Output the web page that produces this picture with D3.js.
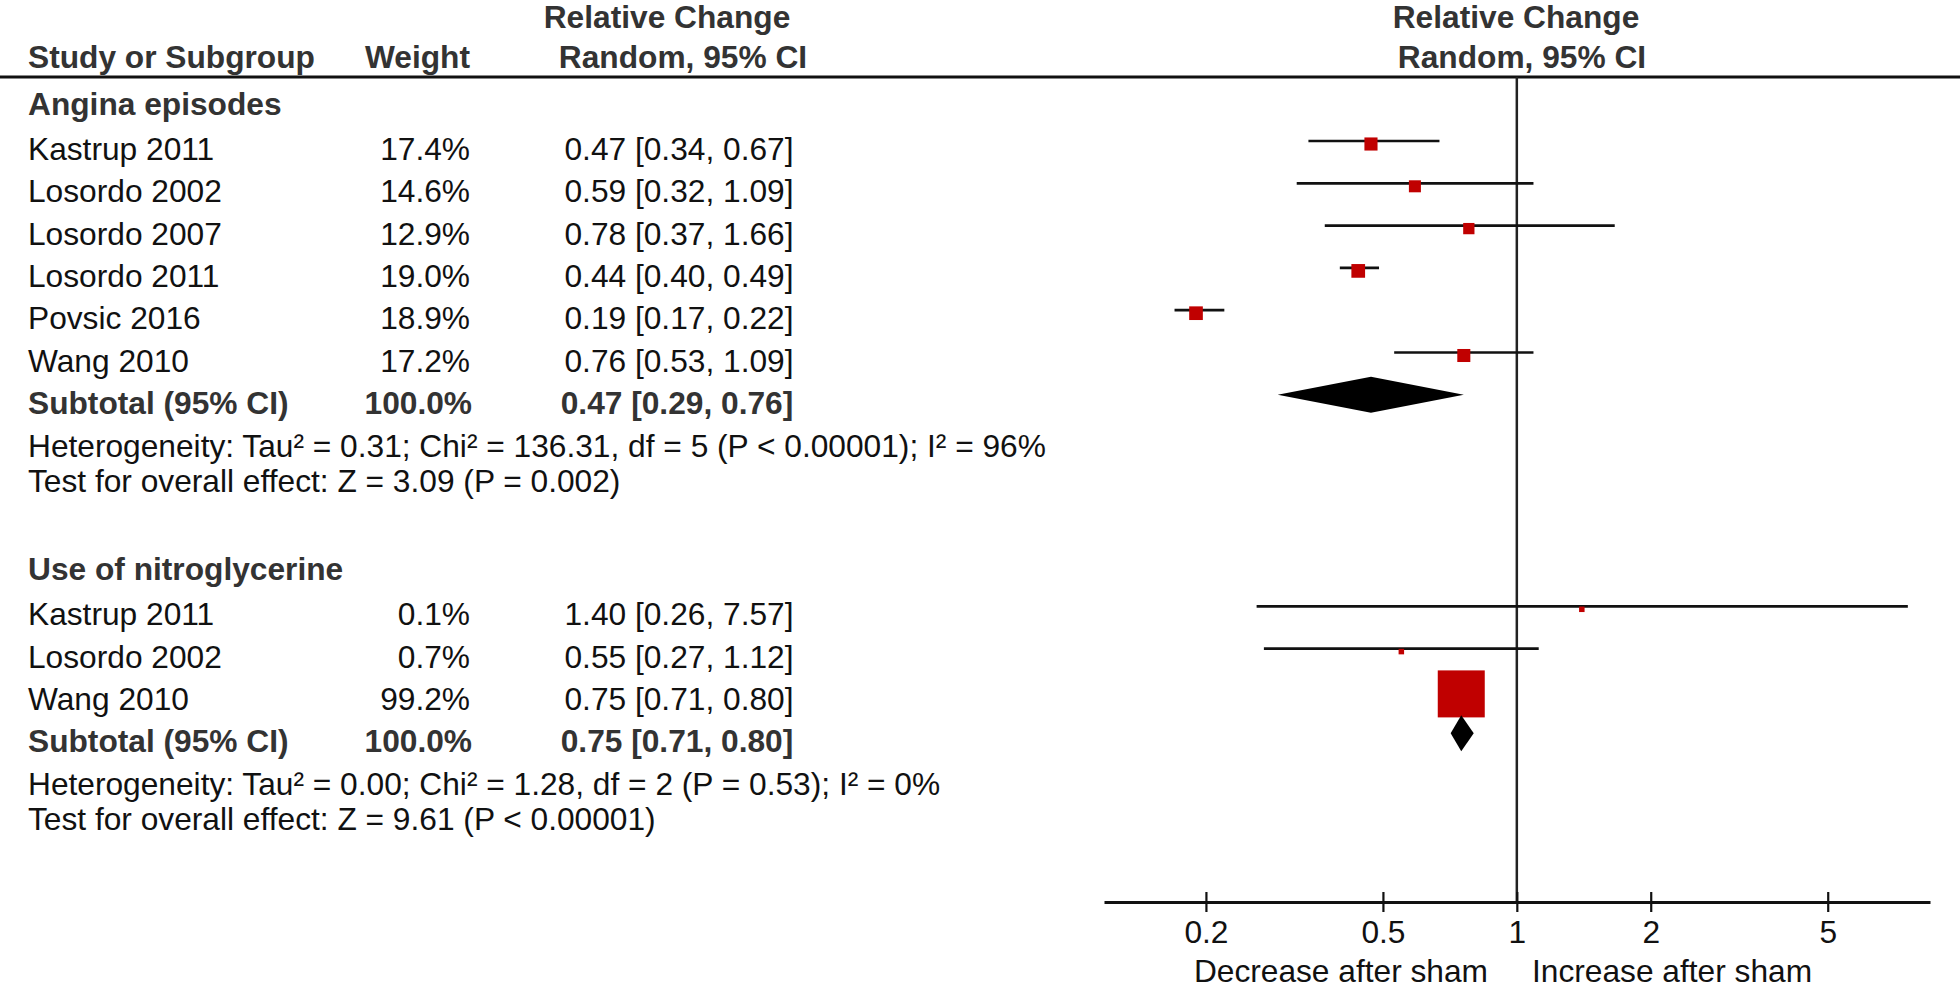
<!DOCTYPE html>
<html>
<head>
<meta charset="utf-8">
<script src="https://cdn.jsdelivr.net/npm/d3@7"></script>
<style>
  body { margin: 0; background: #fff; }
  svg text { font-family: "Liberation Sans", Arial, sans-serif; font-size: 31.7px; }
  .bold { font-weight: bold; fill: #333; }
  .reg { fill: #111; }
</style>
</head>
<body>
<div class="visualization"></div>
<script>
// data
var anginaStudies = ["Kastrup 2011", "Losordo 2002", "Losordo 2007", "Losordo 2011", "Povsic 2016", "Wang 2010"];
var anginaWeight = [17.4, 14.6, 12.9, 19.0, 18.9, 17.2];
var anginaEst = [0.47, 0.59, 0.78, 0.44, 0.19, 0.76];
var anginaLow = [0.34, 0.32, 0.37, 0.40, 0.17, 0.53];
var anginaHigh = [0.67, 1.09, 1.66, 0.49, 0.22, 1.09];
var anginaTotal = [0.47, 0.29, 0.76];
var anginaHet = "Heterogeneity: Tau² = 0.31; Chi² = 136.31, df = 5 (P < 0.00001); I² = 96%";
var anginaTest = "Test for overall effect: Z = 3.09 (P = 0.002)";

var nitroStudies = ["Kastrup 2011", "Losordo 2002", "Wang 2010"];
var nitroWeight = [0.1, 0.7, 99.2];
var nitroEst = [1.40, 0.55, 0.75];
var nitroLow = [0.26, 0.27, 0.71];
var nitroHigh = [7.57, 1.12, 0.80];
var nitroTotal = [0.75, 0.71, 0.80];
var nitroHet = "Heterogeneity: Tau² = 0.00; Chi² = 1.28, df = 2 (P = 0.53); I² = 0%";
var nitroTest = "Test for overall effect: Z = 9.61 (P < 0.00001)";

var tickValues = [0.2, 0.5, 1, 2, 5];
var tickLabels = ["0.2", "0.5", "1", "2", "5"];

var width = 1960;
var height = 988;

var svg = d3.select(".visualization").append("svg")
    .attr("width", width)
    .attr("height", height);

// scales
var xScale = d3.scaleLog().domain([0.118, 8.49]).range([1104, 1930]);
// row index -> y of the CI line
var yRow = d3.scaleLinear().domain([0, 1]).range([141, 183.3]);
var axisY = 902;
var headY = 77;

var f2 = d3.format(".2f");
var f1 = d3.format(".1f");
function ciText(e, l, h){ return f2(e) + " [" + f2(l) + ", " + f2(h) + "]"; }

// header
svg.append("text").attr("class", "bold").attr("x", 667).attr("y", 28).attr("text-anchor", "middle").text("Relative Change");
svg.append("text").attr("class", "bold").attr("x", 683).attr("y", 68).attr("text-anchor", "middle").text("Random, 95% CI");
svg.append("text").attr("class", "bold").attr("x", 1516).attr("y", 28).attr("text-anchor", "middle").text("Relative Change");
svg.append("text").attr("class", "bold").attr("x", 1522).attr("y", 68).attr("text-anchor", "middle").text("Random, 95% CI");
svg.append("text").attr("class", "bold").attr("x", 28).attr("y", 68).text("Study or Subgroup");
svg.append("text").attr("class", "bold").attr("x", 470).attr("y", 68).attr("text-anchor", "end").text("Weight");

svg.append("line")
    .attr("x1", 0).attr("x2", width)
    .attr("y1", headY).attr("y2", headY)
    .attr("stroke", "#111").attr("stroke-width", 3);

// no-effect line
svg.append("line")
    .attr("x1", xScale(1)).attr("x2", xScale(1))
    .attr("y1", headY).attr("y2", axisY)
    .attr("stroke", "#222").attr("stroke-width", 2.5);

/*
Draw one subgroup block
*/
function drawGroup(title, startRow, names, weight, est, low, high, total, het, test, sizeMax, weightMax){
    var rows = names.map(function(n, i){
        return {name: n, w: weight[i], e: est[i], l: low[i], h: high[i], row: startRow + i};
    });
    var side = d3.scaleSqrt().domain([0, weightMax]).range([0, sizeMax]);
    var g = svg.append("g");

    g.append("text").attr("class", "bold").attr("x", 28)
        .attr("y", yRow(startRow - 1) + 16).text(title);

    var r = g.selectAll(".study").data(rows).enter().append("g").attr("class", "study");
    r.append("text").attr("class", "reg").attr("x", 28)
        .attr("y", function(d){ return yRow(d.row) + 19; }).text(function(d){ return d.name; });
    r.append("text").attr("class", "reg").attr("x", 470).attr("text-anchor", "end")
        .attr("y", function(d){ return yRow(d.row) + 19; }).text(function(d){ return f1(d.w) + "%"; });
    r.append("text").attr("class", "reg").attr("x", 679).attr("text-anchor", "middle")
        .attr("y", function(d){ return yRow(d.row) + 19; }).text(function(d){ return ciText(d.e, d.l, d.h); });
    r.append("line")
        .attr("x1", function(d){ return xScale(d.l); })
        .attr("x2", function(d){ return xScale(d.h); })
        .attr("y1", function(d){ return yRow(d.row); })
        .attr("y2", function(d){ return yRow(d.row); })
        .attr("stroke", "#111").attr("stroke-width", 2.7);
    r.append("rect")
        .attr("fill", "#c00000")
        .attr("x", function(d){ return xScale(d.e) - Math.max(5.5, side(d.w)) / 2; })
        .attr("y", function(d){ return yRow(d.row) + 3 - Math.max(5.5, side(d.w)) / 2; })
        .attr("width", function(d){ return Math.max(5.5, side(d.w)); })
        .attr("height", function(d){ return Math.max(5.5, side(d.w)); });

    // subtotal
    var sRow = startRow + names.length;
    var sy = yRow(sRow);
    g.append("text").attr("class", "bold").attr("x", 28).attr("y", sy + 19).text("Subtotal (95% CI)");
    g.append("text").attr("class", "bold").attr("x", 472).attr("y", sy + 19).attr("text-anchor", "end").text("100.0%");
    g.append("text").attr("class", "bold").attr("x", 677).attr("y", sy + 19).attr("text-anchor", "middle")
        .text(ciText(total[0], total[1], total[2]));
    g.append("polygon")
        .attr("fill", "#000")
        .attr("points", [
            [xScale(total[1]), sy], [xScale(total[0]), sy - 18],
            [xScale(total[2]), sy], [xScale(total[0]), sy + 18]
        ].map(function(p){ return p.join(","); }).join(" "));

    g.append("text").attr("class", "reg").attr("x", 28).attr("y", sy + 62).text(het);
    g.append("text").attr("class", "reg").attr("x", 28).attr("y", sy + 97).text(test);
}

drawGroup("Angina episodes", 0, anginaStudies, anginaWeight, anginaEst, anginaLow, anginaHigh,
    anginaTotal, anginaHet, anginaTest, 13.7, 19.0);
drawGroup("Use of nitroglycerine", 11, nitroStudies, nitroWeight, nitroEst, nitroLow, nitroHigh,
    nitroTotal, nitroHet, nitroTest, 47, 99.2);

// x-axis
var xAxis = d3.axisBottom(xScale)
    .tickValues(tickValues)
    .tickFormat(function(d, i){ return tickLabels[i]; })
    .tickSizeOuter(0)
    .tickSizeInner(10);
var ax = svg.append("g")
    .attr("class", "x axis")
    .attr("transform", "translate(0," + axisY + ")")
    .call(xAxis);
ax.select(".domain").attr("stroke", "#111").attr("stroke-width", 3);
ax.selectAll(".tick line").attr("y1", -10).attr("y2", 10).attr("stroke", "#111").attr("stroke-width", 2.2);
ax.selectAll(".tick text").attr("y", 41).attr("dy", 0)
    .attr("fill", "#111").style("font-size", "31.7px")
    .style("font-family", "'Liberation Sans', Arial, sans-serif");

svg.append("text").attr("class", "reg").attr("x", 1488).attr("y", 982).attr("text-anchor", "end").text("Decrease after sham");
svg.append("text").attr("class", "reg").attr("x", 1532).attr("y", 982).text("Increase after sham");
</script>
</body>
</html>
